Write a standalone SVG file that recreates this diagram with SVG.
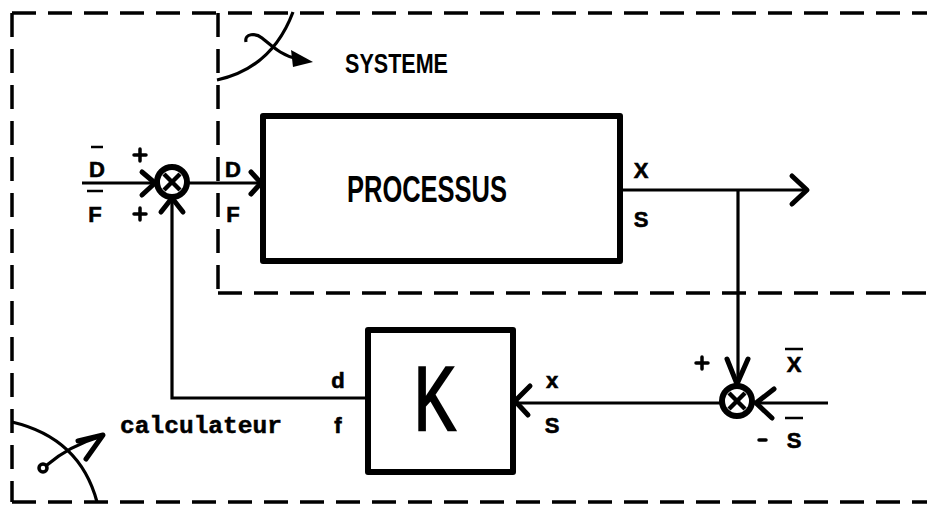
<svg xmlns="http://www.w3.org/2000/svg" width="927" height="506" viewBox="0 0 927 506">
<style>
.bg{fill:#ffffff}
.dash{fill:none;stroke:#000;stroke-width:3.5;stroke-dasharray:24 12}
.box{fill:none;stroke:#000;stroke-width:6;stroke-linejoin:round}
.line{fill:none;stroke:#000;stroke-width:3.2}
.ah{fill:none;stroke:#000;stroke-width:5;stroke-linecap:round;stroke-linejoin:round}
.sum{fill:#fff;stroke:#000;stroke-width:6}
.cross{stroke:#000;stroke-width:4.5}
.lbl{font-family:"Liberation Sans",Arial,sans-serif;font-weight:bold;font-size:22px;fill:#000;text-anchor:middle;stroke:#000;stroke-width:0.6}
.mono{font-family:"Liberation Mono","DejaVu Sans Mono",monospace;font-weight:bold;fill:#000;stroke:#000;stroke-width:0.5}
.bar{stroke:#000;stroke-width:2.5}
.sign{stroke:#000;stroke-width:3.5;stroke-linecap:round}
</style>
<rect class="bg" x="0" y="0" width="927" height="506"/>

<g id="boundaries">
  <path class="dash" d="M12,13 H927"/>
  <path class="dash" d="M12,13 V502"/>
  <path class="dash" d="M12,502 H927"/>
  <path class="dash" d="M218,13 V293"/>
  <path class="dash" d="M218,293 H927"/>
</g>

<g id="systeme-symbol">
  <path class="line" d="M217,80 Q272,68 293,12" stroke-width="3.5"/>
  <path class="line" d="M246,42 C244,33 256,33 262,38 C272,46 282,56 298,59" stroke-width="4"/>
  <polygon points="313,62 291,50 293,67" fill="#000"/>
  <text x="345" y="73" font-family="Liberation Sans,Arial,sans-serif" font-weight="bold" font-size="27" textLength="103" lengthAdjust="spacingAndGlyphs">SYSTEME</text>
</g>

<g id="calculateur-symbol">
  <path class="line" d="M12,422 Q80,438 97,502" stroke-width="3.5"/>
  <circle cx="43" cy="468" r="4" fill="none" stroke="#000" stroke-width="3.5"/>
  <path class="line" d="M47,465 C62,452 82,442 102,436" stroke-width="3.5"/>
  <polyline class="ah" points="78,441 103,435 86,459"/>
  <text class="mono" x="120" y="433" font-size="24" textLength="162" lengthAdjust="spacingAndGlyphs">calculateur</text>
</g>

<g id="processus">
  <rect class="box" x="263" y="116" width="357" height="145"/>
  <text x="347" y="202" font-family="Liberation Sans,Arial,sans-serif" font-weight="bold" font-size="37" textLength="160" lengthAdjust="spacingAndGlyphs">PROCESSUS</text>
</g>

<g id="k-block">
  <rect class="box" x="368" y="330" width="145" height="142"/>
  <text x="414" y="430" font-family="Liberation Sans,Arial,sans-serif" font-size="90" stroke="#000" stroke-width="2.5" textLength="42" lengthAdjust="spacingAndGlyphs">K</text>
</g>

<g id="sum1">
  <circle class="sum" cx="172" cy="182" r="15"/>
  <line class="cross" x1="164" y1="174" x2="180" y2="190"/>
  <line class="cross" x1="180" y1="174" x2="164" y2="190"/>
</g>

<g id="sum2">
  <circle class="sum" cx="737" cy="401" r="15"/>
  <line class="cross" x1="729" y1="393" x2="745" y2="409"/>
  <line class="cross" x1="745" y1="393" x2="729" y2="409"/>
</g>

<g id="connectors">
  <path class="line" d="M82,183 H155"/>
  <polyline class="ah" points="142,172 155,183 142,195"/>
  <path class="line" d="M187,183 H261"/>
  <polyline class="ah" points="251,172 261,183 251,194"/>
  <path class="line" d="M620,190 H806"/>
  <polyline class="ah" points="792,176 807,190 792,204"/>
  <path class="line" d="M738,190 V383"/>
  <polyline class="ah" points="727,359 737,384 748,359"/>
  <path class="line" d="M828,403 H756"/>
  <polyline class="ah" points="774,389 756,403 772,418"/>
  <path class="line" d="M722,403 H515"/>
  <polyline class="ah" points="530,386 515,401 528,415"/>
  <path class="line" d="M367,398 H172 V199"/>
  <polyline class="ah" points="161,212 172,198 183,212"/>
</g>

<g id="labels">
  <text class="lbl" x="97" y="177">D</text>
  <line class="bar" x1="91" y1="147" x2="103" y2="147"/>
  <text class="lbl" x="95" y="222">F</text>
  <line class="bar" x1="87" y1="191" x2="103" y2="191"/>
  <line class="sign" x1="134" y1="155" x2="146" y2="155"/>
  <line class="sign" x1="140" y1="149" x2="140" y2="161"/>
  <line class="sign" x1="134" y1="214" x2="146" y2="214"/>
  <line class="sign" x1="140" y1="208" x2="140" y2="220"/>
  <text class="lbl" x="233" y="177">D</text>
  <text class="lbl" x="233" y="222">F</text>
  <text class="lbl" x="641" y="178">X</text>
  <text class="lbl" x="641" y="227">S</text>
  <line class="sign" x1="696" y1="363" x2="708" y2="363"/>
  <line class="sign" x1="702" y1="357" x2="702" y2="369"/>
  <text class="lbl" x="794" y="372">X</text>
  <line class="bar" x1="785" y1="349" x2="803" y2="349"/>
  <line class="sign" x1="759" y1="440" x2="766" y2="440"/>
  <text class="lbl" x="794" y="448">S</text>
  <line class="bar" x1="785" y1="418" x2="803" y2="418"/>
  <text class="lbl" x="552" y="388">x</text>
  <text class="lbl" x="552" y="433">S</text>
  <text class="lbl" x="338" y="388">d</text>
  <text class="lbl" x="338" y="433">f</text>
</g>
</svg>
